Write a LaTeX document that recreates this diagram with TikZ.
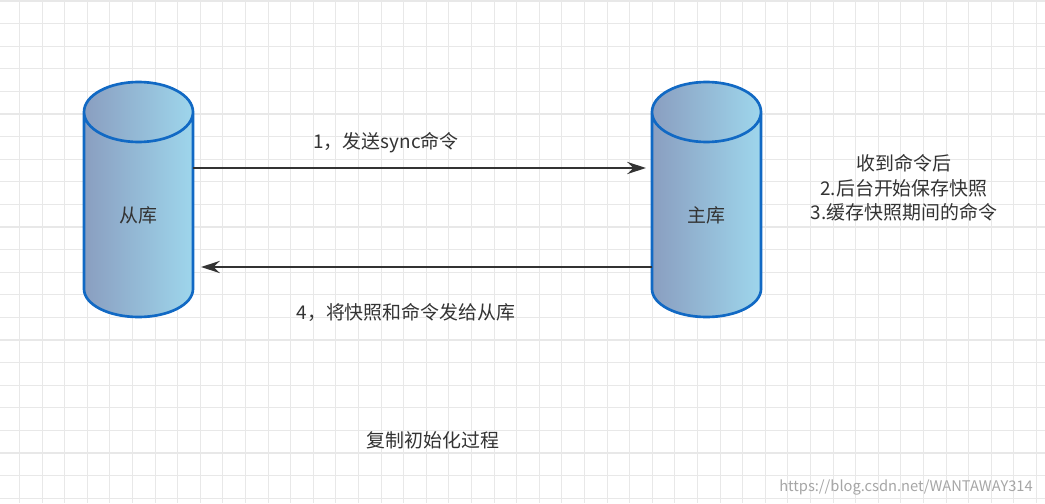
\documentclass[tikz,border=0pt]{standalone}
\usepackage{fontspec}
\setmainfont{Noto Sans CJK SC}
\usetikzlibrary{arrows.meta}
\definecolor{gridc}{HTML}{E8E8E8}
\definecolor{cylb}{HTML}{1169C4}
\definecolor{txt}{HTML}{333333}
\tikzset{
 lbl/.style={text=txt,font=\fontsize{14.2}{17}\selectfont,inner sep=0pt},
 arr/.style={line width=2pt,draw=txt,-{Stealth[length=14pt,width=9pt]}},
}
\newcommand{\cyl}[3]{% left x, name, label
 \shade[left color={rgb,255:red,138;green,158;blue,192}, right color={rgb,255:red,158;green,214;blue,236}]
  (#1,112) -- (#1,289) arc[start angle=180,end angle=0,x radius=54.5,y radius=28] -- (#1+109,112) arc[start angle=360,end angle=180,x radius=54.5,y radius=30] -- cycle;
 \draw[cylb,line width=2pt] (#1,112) -- (#1,289) arc[start angle=180,end angle=0,x radius=54.5,y radius=28] -- (#1+109,112) arc[start angle=360,end angle=180,x radius=54.5,y radius=30] arc[start angle=180,end angle=0,x radius=54.5,y radius=30];
 \node[lbl] (#2) at (#1+54.5,215) {#3};
}
\begin{document}
\begin{tikzpicture}[x=0.75pt,y=-0.75pt]
\fill[white] (0,0) rectangle (1045,503);
\useasboundingbox (0,0) rectangle (1045,503);
\foreach \i in {0,...,46} {\draw[gridc,line width=0.8pt] (\i*22.6+19.5,0) -- (\i*22.6+19.5,503);}
\foreach \i in {0,...,22} {\draw[gridc,line width=0.8pt] (0,\i*22.6+1) -- (1045,\i*22.6+1);}
\cyl{84}{slave}{从库}
\cyl{652}{master}{主库}
\coordinate (a1s) at (193,168); \coordinate (a1e) at (646,168);
\coordinate (a2s) at (652,267); \coordinate (a2e) at (201,267);
\draw[arr] (a1s) -- (a1e);
\draw[arr] (a2s) -- (a2e);
\node[lbl] (t1) at (386,143) {1，发送sync命令};
\node[lbl] (t2) at (406,312) {4，将快照和命令发给从库};
\node[lbl,align=center,font=\fontsize{14.2}{18.5}\selectfont] (t3) at (904,188) {收到命令后\\2.后台开始保存快照\\3.缓存快照期间的命令};
\node[lbl] (t4) at (433,440) {复制初始化过程};
\node[text=black!35,font=\fontsize{11}{12}\selectfont,inner sep=0pt] (wm) at (906,487) {https://blog.csdn.net/WANTAWAY314};
\end{tikzpicture}
\end{document}
